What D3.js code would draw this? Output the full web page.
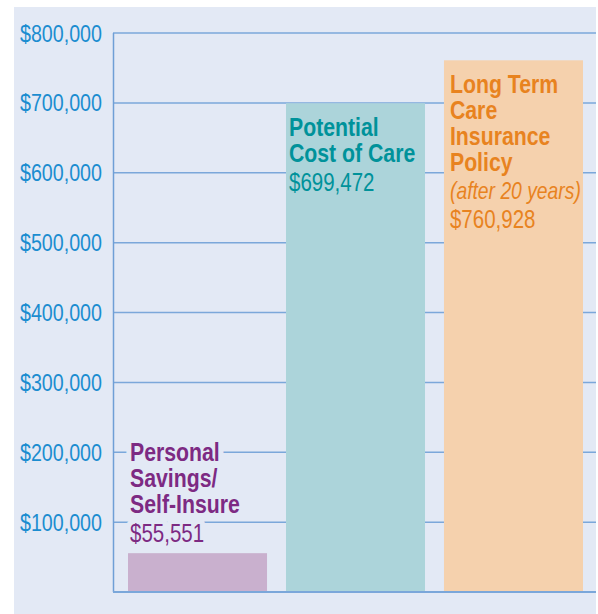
<!DOCTYPE html>
<html>
<head>
<meta charset="utf-8">
<script src="https://cdn.jsdelivr.net/npm/d3@7"></script>
<style>
  body { margin: 0; background: #fff; }
  svg text { font-family: "Liberation Sans", Arial, sans-serif; }
</style>
</head>
<body>
<div id="chart"></div>
<script>
// data
const categories = ["savings", "cost", "ltc"];
const values = [55551, 699472, 760928];
const titles = [
    ["Personal", "Savings/", "Self-Insure"],
    ["Potential", "Cost of Care"],
    ["Long Term", "Care", "Insurance", "Policy"]
];
const notes = [null, null, "(after 20 years)"];
const tickValues = [100000, 200000, 300000, 400000, 500000, 600000, 700000, 800000];

const barColors = ["#c9b0ce", "#acd4da", "#f5d1ad"];
const textColors = ["#7d2a83", "#00929a", "#e8831f"];
const bg = "#e3e9f5";
const squeeze = 0.82; // fake a condensed face

const width = 598, height = 614;

const svg = d3.select("#chart").append("svg")
    .attr("width", width)
    .attr("height", height);

// panel background
svg.append("rect")
    .attr("x", 14).attr("y", 7)
    .attr("width", 582).attr("height", height - 7)
    .attr("fill", bg);

// scales
const x = d3.scaleBand()
    .domain(categories)
    .range([113, 598])
    .paddingInner(0.12)
    .paddingOuter(0.095);

const y = d3.scaleLinear()
    .domain([0, 800000])
    .range([592, 33]);

const fmt = d3.format("$,");

// gridlines
svg.append("g")
    .selectAll("line")
    .data(tickValues)
    .join("line")
    .attr("x1", 113).attr("x2", 596)
    .attr("y1", d => y(d)).attr("y2", d => y(d))
    .attr("stroke", "#7ba7da")
    .attr("stroke-width", 1.5);

// y axis labels
svg.append("g")
    .selectAll("text")
    .data(tickValues)
    .join("text")
    .attr("transform", d => "translate(102," + (y(d) + 8.5) + ") scale(" + squeeze + ",1)")
    .attr("text-anchor", "end")
    .attr("font-size", 24)
    .attr("fill", "#1b8dd0")
    .text(d => fmt(d));

// bars
svg.append("g")
    .selectAll("rect")
    .data(values)
    .join("rect")
    .attr("x", (d, i) => x(categories[i]))
    .attr("y", d => y(d))
    .attr("width", x.bandwidth())
    .attr("height", d => y(0) - y(d))
    .attr("fill", (d, i) => barColors[i]);

// axis + baseline
svg.append("line")
    .attr("x1", 113.5).attr("x2", 113.5)
    .attr("y1", y(800000)).attr("y2", y(0))
    .attr("stroke", "#6f9fd6").attr("stroke-width", 1.5);
svg.append("line")
    .attr("x1", 113).attr("x2", 596)
    .attr("y1", y(0)).attr("y2", y(0))
    .attr("stroke", "#7ba7da").attr("stroke-width", 2);

// bar labels
values.forEach((v, i) => {
    let lines = [];
    titles[i].forEach(t => lines.push({text: t, weight: "bold", style: "normal", size: 25, sx: 0.85, gap: 26}));
    if (notes[i]) lines.push({text: notes[i], weight: "normal", style: "italic", size: 23, sx: 0.84, gap: 28});
    lines.push({text: fmt(v), weight: "normal", style: "normal", size: 25, sx: squeeze, gap: 29});

    let pos = [];
    let yy = 0;
    lines.forEach((l, k) => {
        if (k > 0) yy += l.gap;
        pos.push(yy);
    });

    // short bar: label sits above, tall bar: label sits inside from top
    const barTop = y(v);
    const inside = y(0) - barTop > 200;
    const start = inside ? barTop + 33 : barTop - 11 - yy;
    const tx = x(categories[i]) + (i === 2 ? 6 : i === 1 ? 3 : 2);

    const g = svg.append("g");
    g.selectAll("text")
        .data(lines)
        .join("text")
        .attr("transform", (d, k) => "translate(" + tx + "," + (start + pos[k]) + ") scale(" + d.sx + ",1)")
        .attr("font-size", d => d.size)
        .attr("font-weight", d => d.weight)
        .attr("font-style", d => d.style)
        .attr("fill", textColors[i])
        .attr("stroke", inside ? "none" : bg)
        .attr("stroke-width", 12)
        .attr("paint-order", "stroke")
        .attr("stroke-linejoin", "round")
        .text(d => d.text);
});
</script>
</body>
</html>
